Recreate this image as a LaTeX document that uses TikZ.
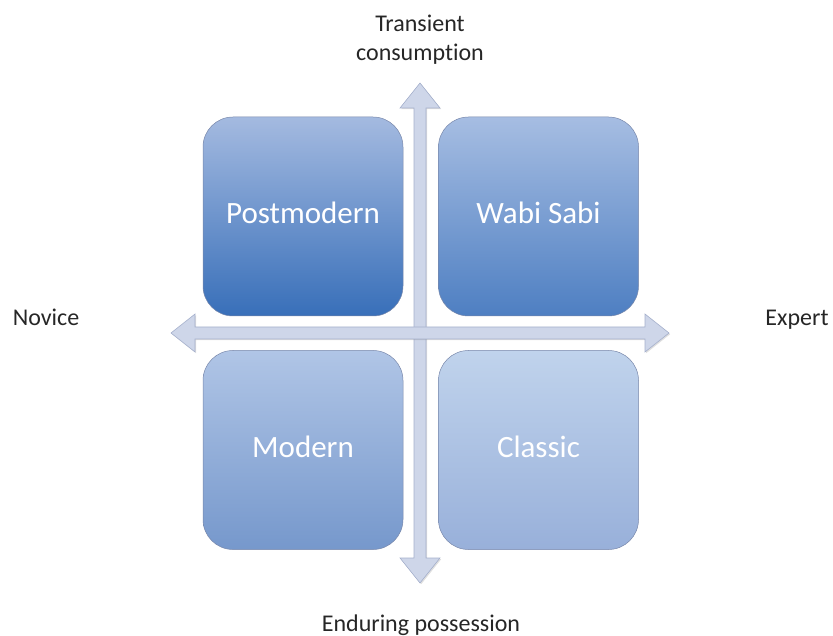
\documentclass[tikz,border=0pt]{standalone}
\usepackage{fontspec}
\setmainfont{Carlito}[Ligatures=NoCommon]
\usetikzlibrary{positioning,shadows}

\definecolor{arrowfill}{RGB}{206,214,233}
\definecolor{arrowline}{RGB}{165,176,204}
\definecolor{boxline}{RGB}{120,135,170}

\tikzset{
  quadbox/.style={rectangle, rounded corners=30pt, draw=boxline, line width=0.5pt,
    minimum width=200pt, minimum height=199pt, text=white, text height=15pt, text depth=0pt,
    font=\fontsize{31}{37}\selectfont},
  axislabel/.style={font=\fontsize{24}{29}\selectfont, text=black!85},
  axisarrow/.style={fill=arrowfill, draw=arrowline, line width=0.6pt, line join=miter,
    drop shadow={shadow xshift=1.2pt, shadow yshift=-1.2pt, opacity=0.25}}
}

\begin{document}
\begin{tikzpicture}[x=1pt, y=-1pt]
  \useasboundingbox (0,0) rectangle (833,636);

  % axes
  \draw[axisarrow] (420,83) -- (440,108) -- (426,108) -- (426,558) -- (440,558) -- (420,583)
    -- (400,558) -- (414,558) -- (414,108) -- (400,108) -- cycle;
  \draw[axisarrow] (171,333) -- (195,314) -- (195,327) -- (645,327) -- (645,314) -- (669,333)
    -- (645,352) -- (645,339) -- (195,339) -- (195,352) -- cycle;

  % quadrants
  \node[quadbox, top color={rgb,255:red,164;green,186;blue,224}, bottom color={rgb,255:red,56;green,111;blue,185}] (postmodern) at (303,216.5) {Postmodern};
  \node[quadbox, right=35pt of postmodern, top color={rgb,255:red,166;green,189;blue,226}, bottom color={rgb,255:red,78;green,127;blue,194}] (wabisabi) {Wabi Sabi};
  \node[quadbox, below=34pt of postmodern, top color={rgb,255:red,176;green,197;blue,230}, bottom color={rgb,255:red,118;green,152;blue,204}] (modern) {Modern};
  \node[quadbox, below=34pt of wabisabi, top color={rgb,255:red,192;green,211;blue,236}, bottom color={rgb,255:red,152;green,176;blue,218}] (classic) {Classic};

  % labels
  \node[axislabel, align=center] (transient) at (420,40) {Transient\\consumption};
  \node[axislabel, anchor=base] (enduring) at (421,631) {Enduring possession};
  \node[axislabel, anchor=base] (novice) at (46,326) {Novice};
  \node[axislabel, anchor=base] (expert) at (797,326) {Expert};
\end{tikzpicture}
\end{document}
